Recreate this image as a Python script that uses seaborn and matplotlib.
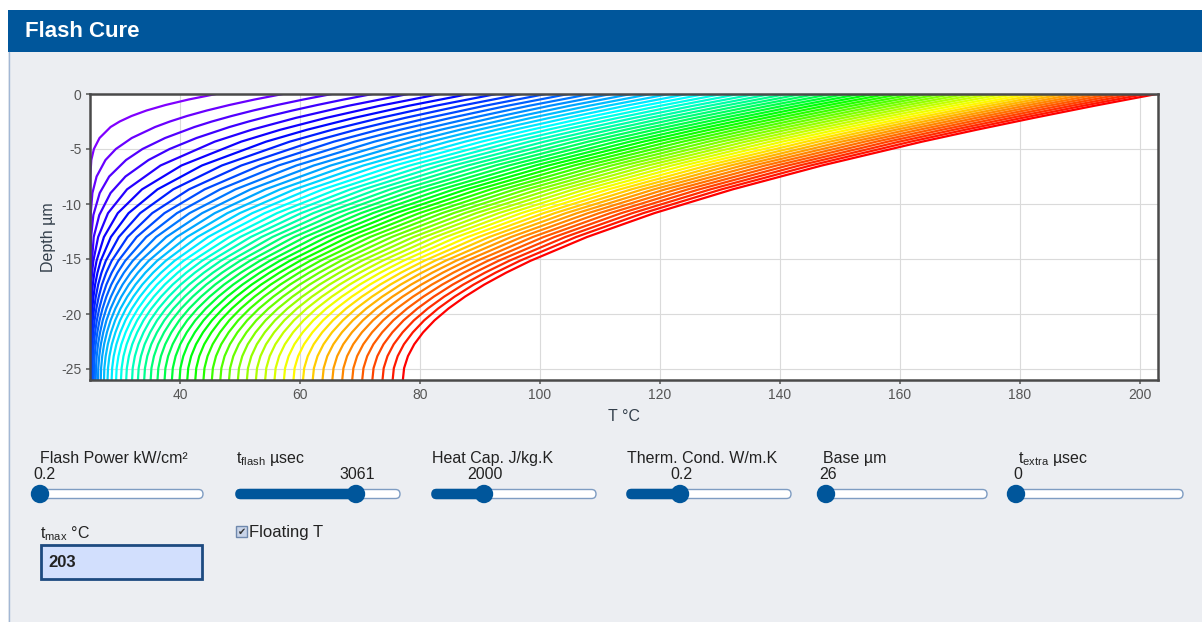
import colorsys

import matplotlib.pyplot as plt
import pandas as pd
import seaborn as sns
from matplotlib.patches import Circle, FancyBboxPatch, Rectangle

sns.set_theme(style="white")
plt.rcParams["font.family"] = ["Liberation Sans", "DejaVu Sans"]
plt.rcParams["mathtext.fontset"] = "custom"
plt.rcParams["mathtext.rm"] = "Liberation Sans"
plt.rcParams["axes.unicode_minus"] = False

# temperature (°C) against depth (µm), one row per snapshot
early_depths = [0, -0.5, -1, -1.5, -2, -2.5, -3, -4, -5, -6, -7.5, -9, -11, -13, -17, -26]
early_temps = [
    [46.00, 41.44, 37.59, 34.42, 31.92, 29.95, 28.43, 26.59, 25.65, 25.22, 25.04, 25.0, 25.0, 25.0, 25.0, 25.0],
    [57.13, 52.44, 48.23, 44.47, 41.16, 38.32, 35.85, 31.96, 29.31, 27.58, 26.10, 25.40, 25.10, 25.02, 25.0, 25.0],
    [65.30, 60.57, 56.20, 52.21, 48.60, 45.32, 42.41, 37.52, 33.75, 31.01, 28.20, 26.62, 25.56, 25.18, 25.01, 25.0],
    [72.07, 67.31, 62.87, 58.75, 54.94, 51.44, 48.25, 42.75, 38.27, 34.76, 30.91, 28.43, 26.55, 25.62, 25.08, 25.0],
]

depths = [0, -1.08, -2.17, -3.25, -4.33, -6.5, -8.67, -10.83, -13, -15.17,
          -16.25, -17.33, -18.42, -19.5, -20.58, -21.67, -22.75, -23.83, -24.92, -26]
temps = [
    [78.00, 67.98, 59.31, 51.94, 45.79, 36.75, 31.17, 28.00, 26.36, 25.56, 25.35, 25.20, 25.11, 25.06, 25.03, 25.02, 25.01, 25.01, 25.0, 25.0],
    [83.30, 73.22, 64.37, 56.72, 50.20, 40.24, 33.67, 29.63, 27.32, 26.09, 25.72, 25.47, 25.30, 25.19, 25.11, 25.08, 25.05, 25.04, 25.03, 25.03],
    [88.17, 78.03, 69.04, 61.17, 54.35, 43.65, 36.25, 31.43, 28.48, 26.78, 26.24, 25.85, 25.58, 25.39, 25.25, 25.17, 25.10, 25.07, 25.06, 25.05],
    [92.69, 82.51, 73.41, 65.36, 58.30, 46.97, 38.87, 33.36, 29.81, 27.63, 26.91, 26.36, 25.97, 25.68, 25.46, 25.33, 25.22, 25.16, 25.13, 25.12],
    [96.93, 86.72, 77.53, 69.32, 62.06, 50.21, 41.50, 35.37, 31.25, 28.61, 27.70, 26.99, 26.46, 26.06, 25.76, 25.55, 25.40, 25.31, 25.25, 25.24],
    [100.94, 90.71, 81.43, 73.09, 65.66, 53.35, 44.10, 37.41, 32.78, 29.71, 28.61, 27.73, 27.06, 26.54, 26.14, 25.85, 25.64, 25.50, 25.42, 25.40],
    [104.73, 94.47, 85.13, 76.68, 69.10, 56.40, 46.68, 39.49, 34.37, 30.86, 29.58, 28.54, 27.73, 27.09, 26.59, 26.22, 25.95, 25.77, 25.66, 25.63],
    [108.36, 98.08, 88.68, 80.14, 72.42, 59.39, 49.24, 41.59, 36.02, 32.11, 30.64, 29.44, 28.49, 27.73, 27.12, 26.68, 26.34, 26.12, 25.99, 25.95],
    [111.83, 101.54, 92.09, 83.46, 75.63, 62.29, 51.76, 43.69, 37.71, 33.41, 31.77, 30.42, 29.33, 28.44, 27.74, 27.21, 26.81, 26.54, 26.38, 26.33],
    [115.18, 104.87, 95.37, 86.67, 78.74, 65.12, 54.24, 45.80, 39.43, 34.77, 32.97, 31.46, 30.23, 29.23, 28.43, 27.82, 27.35, 27.04, 26.85, 26.79],
    [118.40, 108.08, 98.54, 89.77, 81.75, 67.88, 56.69, 47.90, 41.17, 36.17, 34.21, 32.57, 31.21, 30.09, 29.19, 28.50, 27.97, 27.61, 27.39, 27.33],
    [121.51, 111.17, 101.60, 92.77, 84.66, 70.57, 59.09, 49.97, 42.91, 37.60, 35.50, 33.71, 32.23, 31.00, 30.01, 29.24, 28.64, 28.24, 28.00, 27.92],
    [124.53, 114.18, 104.57, 95.69, 87.50, 73.20, 61.47, 52.05, 44.68, 39.07, 36.83, 34.92, 33.32, 31.99, 30.90, 30.05, 29.40, 28.95, 28.69, 28.60],
    [127.46, 117.11, 107.46, 98.53, 90.28, 75.79, 63.81, 54.12, 46.46, 40.57, 38.20, 36.16, 34.45, 33.02, 31.85, 30.93, 30.22, 29.74, 29.44, 29.35],
    [130.31, 119.95, 110.28, 101.29, 92.98, 78.32, 66.12, 56.17, 48.25, 42.10, 39.60, 37.45, 35.64, 34.11, 32.86, 31.87, 31.11, 30.58, 30.27, 30.16],
    [133.08, 122.71, 113.01, 103.99, 95.61, 80.79, 68.39, 58.21, 50.03, 43.64, 41.03, 38.77, 36.85, 35.24, 33.91, 32.86, 32.04, 31.48, 31.14, 31.03],
    [135.83, 125.45, 115.72, 106.65, 98.22, 83.23, 70.61, 60.20, 51.79, 45.17, 42.46, 40.11, 38.11, 36.42, 35.03, 33.92, 33.07, 32.48, 32.12, 32.01],
    [138.47, 128.08, 118.33, 109.23, 100.74, 85.62, 72.84, 62.22, 53.60, 46.77, 43.96, 41.51, 39.42, 37.65, 36.18, 35.02, 34.11, 33.49, 33.11, 32.99],
    [141.05, 130.65, 120.89, 111.75, 103.22, 87.98, 75.03, 64.23, 55.41, 48.38, 45.47, 42.93, 40.76, 38.91, 37.38, 36.16, 35.21, 34.55, 34.16, 34.03],
    [143.57, 133.17, 123.38, 114.22, 105.64, 90.29, 77.19, 66.22, 57.21, 49.99, 46.99, 44.37, 42.12, 40.20, 38.61, 37.34, 36.35, 35.66, 35.24, 35.11],
    [146.05, 135.64, 125.84, 116.65, 108.04, 92.57, 79.34, 68.20, 59.02, 51.63, 48.55, 45.84, 43.52, 41.54, 39.89, 38.56, 37.54, 36.82, 36.39, 36.25],
    [148.49, 138.08, 128.26, 119.04, 110.39, 94.83, 81.46, 70.17, 60.83, 53.28, 50.12, 47.34, 44.95, 42.91, 41.20, 39.83, 38.77, 38.02, 37.57, 37.43],
    [150.89, 140.47, 130.63, 121.39, 112.71, 97.05, 83.56, 72.14, 62.64, 54.94, 51.70, 48.86, 46.40, 44.30, 42.54, 41.13, 40.04, 39.27, 38.80, 38.65],
    [153.24, 142.82, 132.97, 123.70, 114.99, 99.24, 85.65, 74.09, 64.45, 56.60, 53.30, 50.40, 47.88, 45.73, 43.92, 42.47, 41.34, 40.55, 40.07, 39.92],
    [155.55, 145.12, 135.26, 125.97, 117.23, 101.40, 87.70, 76.02, 66.25, 58.27, 54.91, 51.94, 49.37, 47.17, 45.32, 43.83, 42.67, 41.86, 41.37, 41.21],
    [157.84, 147.40, 137.53, 128.22, 119.45, 103.55, 89.75, 77.95, 68.06, 59.96, 56.54, 53.51, 50.89, 48.64, 46.75, 45.23, 44.04, 43.21, 42.71, 42.55],
    [160.09, 149.65, 139.77, 130.44, 121.64, 105.67, 91.78, 79.88, 69.87, 61.66, 58.18, 55.10, 52.43, 50.14, 48.21, 46.66, 45.44, 44.59, 44.08, 43.91],
    [162.31, 151.87, 141.98, 132.63, 123.81, 107.78, 93.80, 81.79, 71.68, 63.36, 59.83, 56.71, 53.99, 51.66, 49.69, 48.11, 46.87, 46.00, 45.48, 45.31],
    [164.50, 154.05, 144.15, 134.79, 125.95, 109.85, 95.79, 83.69, 73.48, 65.06, 61.48, 58.31, 55.56, 53.18, 51.19, 49.57, 48.32, 47.43, 46.90, 46.72],
    [166.67, 156.22, 146.31, 136.93, 128.07, 111.91, 97.78, 85.60, 75.29, 66.78, 63.16, 59.94, 57.15, 54.74, 52.71, 51.07, 49.79, 48.89, 48.35, 48.17],
    [168.81, 158.36, 148.44, 139.05, 130.17, 113.96, 99.76, 87.49, 77.10, 68.50, 64.84, 61.58, 58.75, 56.31, 54.25, 52.59, 51.29, 50.38, 49.83, 49.65],
    [170.94, 160.48, 150.55, 141.15, 132.25, 115.99, 101.72, 89.38, 78.91, 70.23, 66.53, 63.24, 60.37, 57.90, 55.82, 54.13, 52.81, 51.89, 51.33, 51.15],
    [173.03, 162.57, 152.64, 143.22, 134.30, 118.00, 103.67, 91.26, 80.71, 71.95, 68.22, 64.89, 61.99, 59.49, 57.38, 55.68, 54.34, 53.41, 52.84, 52.65],
    [175.11, 164.65, 154.71, 145.28, 136.35, 120.00, 105.62, 93.14, 82.52, 73.69, 69.92, 66.57, 63.64, 61.11, 58.98, 57.25, 55.90, 54.95, 54.38, 54.19],
    [177.17, 166.71, 156.76, 147.32, 138.38, 121.99, 107.55, 95.02, 84.33, 75.44, 71.63, 68.25, 65.29, 62.74, 60.59, 58.84, 57.48, 56.52, 55.94, 55.75],
    [179.22, 168.76, 158.80, 149.35, 140.39, 123.97, 109.48, 96.89, 86.14, 77.18, 73.35, 69.94, 66.96, 64.38, 62.21, 60.45, 59.07, 58.10, 57.51, 57.32],
    [181.25, 170.79, 160.83, 151.37, 142.39, 125.93, 111.40, 98.75, 87.95, 78.94, 75.08, 71.64, 68.63, 66.04, 63.84, 62.07, 60.67, 59.69, 59.10, 58.91],
    [183.26, 172.79, 162.83, 153.36, 144.37, 127.88, 113.30, 100.61, 89.75, 80.68, 76.80, 73.34, 70.31, 67.69, 65.48, 63.69, 62.28, 61.29, 60.70, 60.50],
    [185.26, 174.79, 164.82, 155.35, 146.35, 129.83, 115.21, 102.47, 91.56, 82.44, 78.54, 75.05, 72.00, 69.36, 67.14, 65.33, 63.92, 62.92, 62.32, 62.12],
    [187.25, 176.78, 166.81, 157.32, 148.32, 131.76, 117.11, 104.32, 93.37, 84.21, 80.28, 76.77, 73.70, 71.05, 68.80, 66.98, 65.56, 64.55, 63.95, 63.75],
    [189.23, 178.76, 168.78, 159.29, 150.27, 133.69, 119.00, 106.18, 95.18, 85.97, 82.02, 78.50, 75.41, 72.74, 70.48, 68.65, 67.21, 66.20, 65.59, 65.39],
    [191.19, 180.71, 170.73, 161.23, 152.21, 135.60, 120.88, 108.02, 96.98, 87.73, 83.76, 80.22, 77.11, 74.43, 72.16, 70.31, 68.87, 67.85, 67.24, 67.04],
    [193.14, 182.67, 172.68, 163.18, 154.14, 137.52, 122.77, 109.87, 98.79, 89.51, 85.52, 81.96, 78.84, 76.14, 73.85, 72.00, 70.55, 69.52, 68.90, 68.70],
    [195.09, 184.61, 174.62, 165.11, 156.07, 139.42, 124.64, 111.71, 100.60, 91.28, 87.27, 83.70, 80.56, 77.85, 75.55, 73.69, 72.23, 71.20, 70.58, 70.37],
    [197.02, 186.55, 176.55, 167.04, 157.99, 141.32, 126.52, 113.55, 102.41, 93.06, 89.04, 85.44, 82.30, 79.57, 77.26, 75.39, 73.92, 72.89, 72.26, 72.06],
    [198.95, 188.48, 178.48, 168.96, 159.90, 143.22, 128.39, 115.39, 104.22, 94.84, 90.80, 87.19, 84.03, 81.30, 78.98, 77.10, 75.62, 74.58, 73.95, 73.75],
    [200.86, 190.39, 180.39, 170.86, 161.80, 145.09, 130.24, 117.22, 106.02, 96.61, 92.56, 88.94, 85.77, 83.02, 80.69, 78.80, 77.32, 76.28, 75.64, 75.44],
    [202.78, 192.30, 182.30, 172.77, 163.70, 146.98, 132.10, 119.06, 107.83, 98.39, 94.33, 90.70, 87.51, 84.75, 82.42, 80.52, 79.04, 77.99, 77.35, 77.14],
]

x_ticks = [40, 60, 80, 100, 120, 140, 160, 180, 200]
y_ticks = [0, -5, -10, -15, -20, -25]

slider_labels = ["Flash Power kW/cm²", r"t$_\mathrm{flash}$ µsec", "Heat Cap. J/kg.K",
                 "Therm. Cond. W/m.K", "Base µm", r"t$_\mathrm{extra}$ µsec"]
slider_values = ["0.2", "3061", "2000", "0.2", "26", "0"]
t_max_value = "203"

BLUE = "#00569b"
W, H = 1202, 622

frames = []
for i, row in enumerate(early_temps):
    frames.append(pd.DataFrame({"curve": i, "depth": early_depths, "T": row}))
for j, row in enumerate(temps):
    frames.append(pd.DataFrame({"curve": len(early_temps) + j, "depth": depths, "T": row}))
profiles = pd.concat(frames, ignore_index=True)

n_curves = len(early_temps) + len(temps)
palette = {i: colorsys.hsv_to_rgb(0.75 * (1 - i / (n_curves - 1)), 1, 1) for i in range(n_curves)}

fig = plt.figure(figsize=(W / 100, H / 100), dpi=100, facecolor="white")

# page chrome, in pixel coordinates
ui = fig.add_axes([0, 0, 1, 1], zorder=0)
ui.set_xlim(0, W)
ui.set_ylim(H, 0)
ui.axis("off")
ui.add_patch(Rectangle((8, 52), W - 8, H - 52, fc="#eceef2", ec="none"))
ui.add_patch(Rectangle((8, 10), W - 8, 42, fc=BLUE, ec="none"))
ui.plot([8.5, 8.5], [52, H], color="#a3b8d4", lw=1)
ui.text(25, 37, "Flash Cure", color="white", fontsize=16, fontweight="bold", va="baseline")

# chart
ax = fig.add_axes([90 / W, 1 - 380 / H, 1068 / W, 286 / H], zorder=1)
ax.set_facecolor("white")
sns.lineplot(data=profiles, x="T", y="depth", hue="curve", palette=palette, orient="y",
             estimator=None, legend=False, linewidth=1.6, ax=ax)
ax.set_xlim(25, 203)
ax.set_ylim(-26, 0)
ax.set_xticks(x_ticks)
ax.set_yticks(y_ticks)
ax.grid(True, color="#dadada", lw=0.8)
ax.set_axisbelow(True)
ax.tick_params(bottom=True, left=True, length=3, color="#666666", labelsize=10,
               labelcolor="#555555", pad=3)
for s in ax.spines.values():
    s.set_color("#4a4a4a")
    s.set_linewidth(1.8)
ax.set_xlabel("T °C", fontsize=11.5, color="#333f4b", labelpad=5)
ax.set_ylabel("Depth µm", fontsize=11.5, color="#333f4b", labelpad=4)

# slider controls
label_x = [40, 236, 432, 627, 823, 1018]
track_x = [35, 236, 432, 627, 823, 1015]
track_w = [168, 164, 164, 164, 164, 168]
thumb_x = [40, 356, 484, 680, 826, 1016]
value_pos = [(33, "left"), (357, "center"), (485, "center"), (681, "center"), (819, "left"), (1013, "left")]
for k in range(len(slider_labels)):
    ui.text(label_x[k], 463, slider_labels[k], fontsize=11.5, color="#222222", va="baseline")
    vx, ha = value_pos[k]
    ui.text(vx, 479, slider_values[k], fontsize=11.5, color="#222222", va="baseline", ha=ha)
    ui.add_patch(FancyBboxPatch((track_x[k], 489.5), track_w[k], 9,
                                boxstyle="round,pad=0,rounding_size=4.5",
                                fc="white", ec="#7e9cc2", lw=1))
    filled = thumb_x[k] - track_x[k]
    if filled > 6:
        ui.add_patch(FancyBboxPatch((track_x[k], 489.5), filled, 9,
                                    boxstyle="round,pad=0,rounding_size=4.5",
                                    fc=BLUE, ec=BLUE, lw=1))
    ui.add_patch(Circle((thumb_x[k], 494), 8.5, fc=BLUE, ec=BLUE))

# t_max input and checkbox
ui.text(40, 538, r"t$_\mathrm{max}$ °C", fontsize=11.5, color="#222222", va="baseline")
ui.add_patch(Rectangle((41, 545), 161, 34, fc="#d2dffd", ec="#1d4a80", lw=2))
ui.text(48, 567, t_max_value, fontsize=12, fontweight="bold", color="#222222", va="baseline")
ui.add_patch(Rectangle((236, 526), 11, 11, fc="#c9d4e8", ec="#6f88ad", lw=1))
ui.text(241.5, 531.5, "✔", family="DejaVu Sans", fontsize=7, color="#333333",
        ha="center", va="center")
ui.text(249, 537, "Floating T", fontsize=12, color="#222222", va="baseline")

fig.savefig("out.png", dpi=100)
